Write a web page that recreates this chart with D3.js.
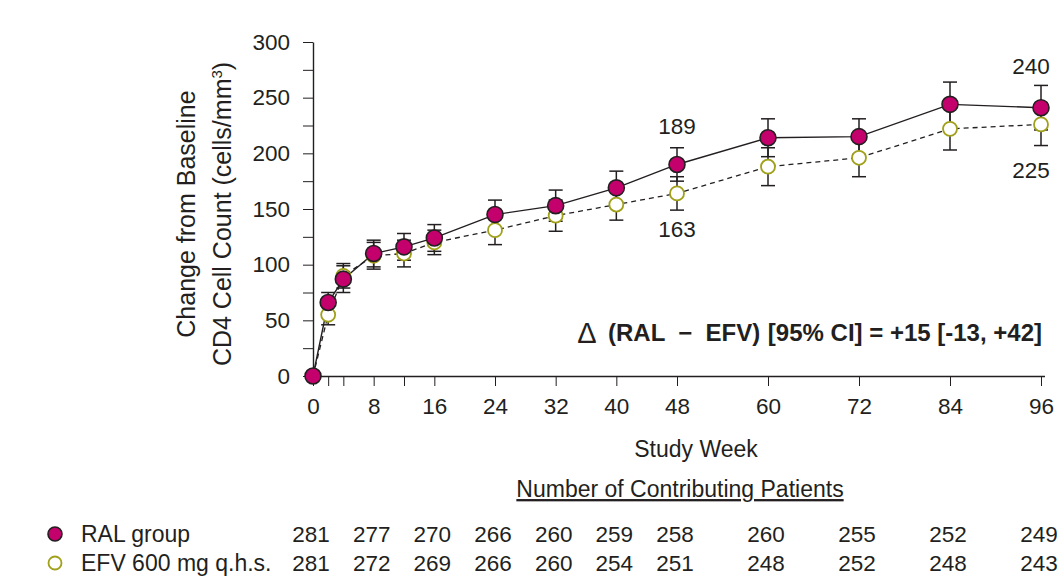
<!DOCTYPE html>
<html>
<head>
<meta charset="utf-8">
<script src="https://d3js.org/d3.v7.min.js"></script>
<style>
  body { margin: 0; background: #fff; }
  text { font-family: "Liberation Sans", Arial, sans-serif; fill: #231f20; }
</style>
</head>
<body>
<div id="my_dataviz"></div>
<script>
// data
var weeks = [0, 2, 4, 8, 12, 16, 24, 32, 40, 48, 60, 72, 84, 96];
var ralMean = [0, 66, 87, 110, 116, 124, 145, 153, 169, 190, 214, 215, 244, 241];
var ralHalf = [0, 9, 12, 12, 12, 12, 13, 14, 15, 15, 17, 16, 20, 20];
var efvMean = [0, 55, 90, 108, 110, 120, 131, 144, 154, 164, 188, 196, 222, 226];
var efvHalf = [0, 9, 11, 12, 12, 11, 13, 14, 14, 15, 17, 17, 19, 19];

var tickWeeks = [0, 8, 16, 24, 32, 40, 48, 60, 72, 84, 96];
var ralCounts = [281, 277, 270, 266, 260, 259, 258, 260, 255, 252, 249];
var efvCounts = [281, 272, 269, 266, 260, 254, 251, 248, 252, 248, 243];

var labels = [
  {week: 48, value: 189, dy: -39},
  {week: 48, value: 163, dy: 35},
  {week: 96, value: 240, dy: -43},
  {week: 96, value: 225, dy: 45}
];

var margin = {top: 42, left: 313},
    width = 728,
    height = 334;

var svg = d3.select("#my_dataviz")
  .append("svg")
    .attr("width", 1059)
    .attr("height", 577)
  .append("g")
    .attr("transform", "translate(" + margin.left + "," + margin.top + ")");

var x = d3.scaleLinear().domain([0, 96]).range([0, width]);
var y = d3.scaleLinear().domain([0, 300]).range([height, 0]);

// x axis: ticks at every visit, labels only on the main ones
var xAxis = svg.append("g")
  .attr("transform", "translate(0," + height + ")")
  .call(d3.axisBottom(x)
    .tickValues(weeks)
    .tickSize(10)
    .tickPadding(12)
    .tickSizeOuter(0)
    .tickFormat(function(d) { return tickWeeks.indexOf(d) >= 0 ? d : ""; }));
xAxis.select(".domain").attr("d", "M0,0.5H" + (width + 4)).attr("stroke", "#231f20").attr("stroke-width", 1.4);
xAxis.selectAll(".tick line").attr("stroke", "#231f20");
xAxis.selectAll("text").style("font-size", "22.5px").style("font-family", "Liberation Sans, Arial");

// y axis
var yAxis = svg.append("g")
  .call(d3.axisLeft(y)
    .tickValues(d3.range(0, 301, 25))
    .tickSize(10)
    .tickPadding(13)
    .tickSizeOuter(0)
    .tickFormat(function(d) { return d % 50 === 0 ? d : ""; }));
yAxis.select(".domain").attr("stroke", "#231f20").attr("stroke-width", 1.4);
yAxis.selectAll(".tick line").attr("stroke", "#231f20");
yAxis.selectAll("text").style("font-size", "22.5px").style("font-family", "Liberation Sans, Arial");

// y axis title (two lines)
var ylab = svg.append("text")
  .attr("transform", "translate(" + (186 - margin.left) + "," + (214 - margin.top) + ") rotate(-90)")
  .style("text-anchor", "middle")
  .style("font-size", "25px");
ylab.append("tspan").attr("x", 0).attr("dy", "0.35em").text("Change from Baseline");
ylab.append("tspan").attr("x", 0).attr("dy", "36px").text("CD4 Cell Count (cells/mm");
ylab.append("tspan").attr("dy", "-9px").style("font-size", "15px").text("3");
ylab.append("tspan").attr("dy", "9px").text(")");

svg.append("text")
  .attr("x", 696 - margin.left).attr("y", 449 - margin.top)
  .attr("dy", "0.35em")
  .style("text-anchor", "middle").style("font-size", "23px")
  .text("Study Week");

svg.append("text")
  .attr("x", 680 - margin.left).attr("y", 489 - margin.top)
  .attr("dy", "0.35em")
  .style("text-anchor", "middle").style("font-size", "23px")
  .style("text-decoration", "underline")
  .text("Number of Contributing Patients");

// delta annotation
svg.append("text")
  .attr("x", 587 - margin.left).attr("y", 333 - margin.top)
  .attr("dy", "0.36em")
  .style("text-anchor", "middle")
  .style("font-size", "29px").style("font-family", "Liberation Sans, Arial")
  .text("\u0394");
svg.append("text")
  .attr("x", 608 - margin.left).attr("y", 333 - margin.top)
  .attr("dy", "0.35em")
  .style("text-anchor", "start")
  .style("white-space", "pre")
  .style("font-size", "24px").style("font-weight", "bold")
  .text("(RAL  \u2212  EFV)");
svg.append("text")
  .attr("x", 1042 - margin.left).attr("y", 333 - margin.top)
  .attr("dy", "0.35em")
  .style("text-anchor", "end")
  .style("font-size", "24px").style("font-weight", "bold")
  .text("[95% CI] = +15 [-13, +42]");

var ral = weeks.map(function(w, i) { return {week: w, mean: ralMean[i], half: ralHalf[i]}; });
var efv = weeks.map(function(w, i) { return {week: w, mean: efvMean[i], half: efvHalf[i]}; });

var line = d3.line()
  .x(function(d) { return x(d.week); })
  .y(function(d) { return y(d.mean); });

function errorBars(data, cls) {
  var g = svg.append("g").attr("class", cls)
    .selectAll("g").data(data.filter(function(d) { return d.half > 0; }))
    .enter().append("g");
  g.append("line")
    .attr("x1", function(d) { return x(d.week); })
    .attr("x2", function(d) { return x(d.week); })
    .attr("y1", function(d) { return y(d.mean - d.half); })
    .attr("y2", function(d) { return y(d.mean + d.half); })
    .attr("stroke", "#231f20").attr("stroke-width", 1.5);
  [-1, 1].forEach(function(s) {
    g.append("line")
      .attr("x1", function(d) { return x(d.week) - 7; })
      .attr("x2", function(d) { return x(d.week) + 7; })
      .attr("y1", function(d) { return y(d.mean + s * d.half); })
      .attr("y2", function(d) { return y(d.mean + s * d.half); })
      .attr("stroke", "#231f20").attr("stroke-width", 1.5);
  });
}

errorBars(efv, "efv-err");
errorBars(ral, "ral-err");

svg.append("path").datum(efv)
  .attr("d", line)
  .attr("fill", "none").attr("stroke", "#231f20")
  .attr("stroke-width", 1.3).attr("stroke-dasharray", "5,4");

svg.append("path").datum(ral)
  .attr("d", line)
  .attr("fill", "none").attr("stroke", "#231f20")
  .attr("stroke-width", 1.4);

svg.append("g").selectAll("circle").data(efv).enter()
  .append("circle")
  .attr("cx", function(d) { return x(d.week); })
  .attr("cy", function(d) { return y(d.mean); })
  .attr("r", 7)
  .attr("fill", "#fff").attr("stroke", "#a0a01a").attr("stroke-width", 1.8);

svg.append("g").selectAll("circle").data(ral).enter()
  .append("circle")
  .attr("cx", function(d) { return x(d.week); })
  .attr("cy", function(d) { return y(d.mean); })
  .attr("r", 8)
  .attr("fill", "#c4006c").attr("stroke", "#231f20").attr("stroke-width", 1.6);

// value labels
svg.append("g").selectAll("text").data(labels).enter()
  .append("text")
  .attr("x", function(d) { return x(d.week) + (d.week === 96 ? -10 : 0); })
  .attr("y", function(d) { return y(d.value) + d.dy; })
  .attr("dy", "0.35em")
  .style("text-anchor", "middle").style("font-size", "22.5px")
  .text(function(d) { return d.value; });

// legend + counts
var rows = [
  {name: "RAL group", counts: ralCounts, y: 534, filled: true},
  {name: "EFV 600 mg q.h.s.", counts: efvCounts, y: 563, filled: false}
];
rows.forEach(function(r) {
  var cy = r.y - margin.top;
  svg.append("circle")
    .attr("cx", 55 - margin.left).attr("cy", cy)
    .attr("r", r.filled ? 7 : 6.5)
    .attr("fill", r.filled ? "#c4006c" : "#fff")
    .attr("stroke", r.filled ? "#231f20" : "#a0a01a")
    .attr("stroke-width", r.filled ? 1.6 : 1.8);
  svg.append("text")
    .attr("x", 81 - margin.left).attr("y", cy).attr("dy", "0.35em")
    .style("font-size", "23px").text(r.name);
  svg.append("g").selectAll("text").data(r.counts).enter()
    .append("text")
    .attr("x", function(d, i) { return x(tickWeeks[i]) - 2; })
    .attr("y", cy).attr("dy", "0.35em")
    .style("text-anchor", "middle").style("font-size", "22.5px")
    .text(function(d) { return d; });
});
</script>
</body>
</html>
